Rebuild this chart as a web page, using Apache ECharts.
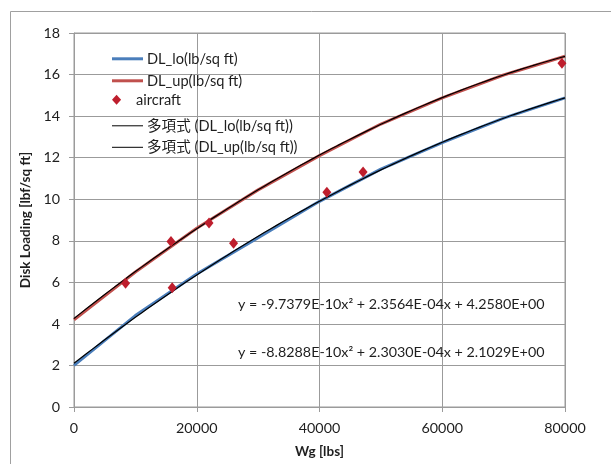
<!DOCTYPE html>
<html>
<head>
<meta charset="utf-8">
<script src="https://cdn.jsdelivr.net/npm/echarts@6/dist/echarts.min.js"></script>
<style>
  html, body { margin: 0; padding: 0; background: #fff; }
  #chart { width: 611px; height: 464px; }
</style>
</head>
<body>
<div id="chart"></div>
<script>
// Gross weight samples [lbs] and disk loading band [lb/sq ft]
const weights = [0, 10000, 20000, 30000, 40000, 50000, 60000, 70000, 80000];
const dlLo    = [2.0, 4.4, 6.4, 8.15, 9.9, 11.45, 12.72, 13.9, 14.88];
const dlUp    = [4.2, 6.5, 8.6, 10.45, 12.1, 13.62, 14.88, 15.98, 16.88];

// Existing aircraft
const aircraftWg = [8400, 15800, 16000, 22000, 26000, 41200, 47100, 79500];
const aircraftDL = [5.95, 7.97, 5.74, 8.86, 7.88, 10.33, 11.31, 16.54];

// Quadratic trendline coefficients [a, b, c] for y = a x^2 + b x + c
const fitLo = [-8.8288e-10, 2.3030e-4, 2.1029];
const fitUp = [-9.7379e-10, 2.3564e-4, 4.2580];
const eqUp = 'y = -9.7379E-10x\u00B2 + 2.3564E-04x + 4.2580E+00';
const eqLo = 'y = -8.8288E-10x\u00B2 + 2.3030E-04x + 2.1029E+00';

// Axis ticks
const xTicks = [0, 20000, 40000, 60000, 80000];
const yTicks = [0, 2, 4, 6, 8, 10, 12, 14, 16, 18];

const seriesNames = [
  'DL_lo(lb/sq ft)',
  'DL_up(lb/sq ft)',
  'aircraft',
  '多項式 (DL_lo(lb/sq ft))',
  '多項式 (DL_up(lb/sq ft))'
];

function pairs(xs, ys) { return xs.map((x, i) => [x, ys[i]]); }
function trend(c) {
  const pts = [];
  for (let x = xTicks[0]; x <= xTicks[xTicks.length - 1]; x += 1000) {
    pts.push([x, c[0] * x * x + c[1] * x + c[2]]);
  }
  return pts;
}

const FONT = 'Lato, "Noto Sans CJK JP", sans-serif';
const TEXT = '#1e1e1e';
const GRID = '#9b9b9b';
const BLUE = '#4A7EBB';
const RED = '#C0504D';
const MARK = '#BE1E2D';

// One legend block per row so each entry sits on its own line
function legendRow(name, centerY, icon, iconH) {
  return {
    data: [{ name: name, icon: icon }],
    left: 112, top: centerY - iconH / 2, orient: 'vertical',
    padding: 0, itemWidth: 31, itemHeight: iconH, itemGap: 4,
    selectedMode: false,
    textStyle: { fontFamily: FONT, fontSize: 14.6, color: TEXT, padding: [0, 0, 0, -1] }
  };
}

const chart = echarts.init(document.getElementById('chart'), null, { renderer: 'canvas' });
chart.setOption({
  animation: false,
  backgroundColor: '#fff',
  textStyle: { fontFamily: FONT },
  grid: { left: 74, right: 46, top: 33, bottom: 57, show: true, borderColor: GRID, borderWidth: 1 },
  legend: [
    legendRow(seriesNames[0], 53, 'rect', 3),
    legendRow(seriesNames[1], 75, 'rect', 3),
    legendRow(seriesNames[2], 97.5, 'path://M5,0L10,5.5L5,11L0,5.5Z', 10),
    legendRow(seriesNames[3], 119, 'rect', 1),
    legendRow(seriesNames[4], 140.5, 'rect', 1)
  ],
  xAxis: {
    type: 'value', min: xTicks[0], max: xTicks[xTicks.length - 1], interval: 20000,
    name: 'Wg [lbs]', nameLocation: 'middle', nameGap: 38,
    nameTextStyle: { fontFamily: FONT, fontSize: 13.5, fontWeight: 'bold', color: TEXT },
    axisLine: { lineStyle: { color: GRID, width: 1 } },
    axisTick: { show: true, inside: false, length: 5, lineStyle: { color: GRID } },
    axisLabel: { margin: 14, fontFamily: FONT, fontSize: 14.3, color: TEXT, formatter: v => String(v) },
    splitLine: { show: true, lineStyle: { color: GRID, width: 1 } }
  },
  yAxis: {
    type: 'value', min: yTicks[0], max: yTicks[yTicks.length - 1], interval: 2,
    name: 'Disk Loading [lbf/sq ft]', nameLocation: 'middle', nameGap: 39,
    nameTextStyle: { fontFamily: FONT, fontSize: 13.5, fontWeight: 'bold', color: TEXT },
    axisLine: { show: true, lineStyle: { color: GRID, width: 1 } },
    axisTick: { show: true, inside: false, length: 5, lineStyle: { color: GRID } },
    axisLabel: { margin: 14, fontFamily: FONT, fontSize: 14.3, color: TEXT, formatter: v => String(v) },
    splitLine: { show: true, lineStyle: { color: GRID, width: 1 } }
  },
  series: [
    {
      name: seriesNames[0], type: 'line', data: pairs(weights, dlLo),
      symbol: 'none', color: BLUE,
      lineStyle: { color: BLUE, width: 3 }, z: 2
    },
    {
      name: seriesNames[1], type: 'line', data: pairs(weights, dlUp),
      symbol: 'none', color: RED,
      lineStyle: { color: RED, width: 3 }, z: 2
    },
    {
      name: seriesNames[2], type: 'scatter', data: pairs(aircraftWg, aircraftDL),
      symbol: 'diamond', symbolSize: [9, 11], color: MARK,
      itemStyle: { color: MARK, opacity: 1 }, z: 5
    },
    {
      name: seriesNames[3], type: 'line', data: trend(fitLo),
      symbol: 'none', color: '#000',
      lineStyle: { color: '#000', width: 1.2 }, z: 3
    },
    {
      name: seriesNames[4], type: 'line', data: trend(fitUp),
      symbol: 'none', color: '#000',
      lineStyle: { color: '#000', width: 1.2 }, z: 3
    }
  ],
  graphic: [
    {
      type: 'rect', silent: true, z: -1,
      shape: { x: 10.5, y: 11.5, width: 800, height: 800 },
      style: { fill: 'none', stroke: '#a0a0a0', lineWidth: 1 }
    },
    {
      type: 'text', left: 238, top: 297, z: 10,
      style: { text: eqUp, font: '14.3px ' + FONT, fill: TEXT }
    },
    {
      type: 'text', left: 238, top: 345, z: 10,
      style: { text: eqLo, font: '14.3px ' + FONT, fill: TEXT }
    }
  ]
});
</script>
</body>
</html>
